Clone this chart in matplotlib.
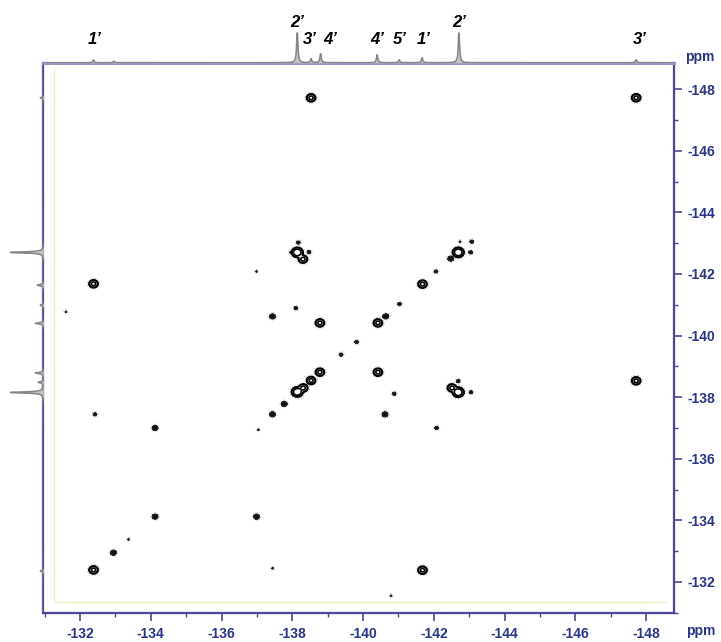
import numpy as np
import matplotlib
matplotlib.use('Agg')
import matplotlib.pyplot as plt

plt.rcParams['font.family'] = ['Liberation Sans', 'DejaVu Sans']
plt.rcParams['axes.unicode_minus'] = False

# ---------------- data ----------------
x_major = [-132, -134, -136, -138, -140, -142, -144, -146, -148]
x_minor = [-131, -133, -135, -137, -139, -141, -143, -145, -147]
x_tick_labels = ['-132', '-134', '-136', '-138', '-140', '-142', '-144', '-146', '-148']
y_major = [-132, -134, -136, -138, -140, -142, -144, -146, -148]
y_tick_labels = ['-132', '-134', '-136', '-138', '-140', '-142', '-144', '-146', '-148']

# 2D cross / diagonal peaks (F2 = horizontal, F1 = vertical), grouped by strength
big_f2 = [-138.14, -142.69, -138.14, -142.69]
big_f1 = [-138.17, -142.70, -142.70, -138.16]

ring_f2 = [-132.38, -138.31, -138.53, -138.78, -140.42, -141.68, -147.72,
           -138.78, -140.42, -138.53, -147.72, -132.38, -141.68, -138.30, -142.51]
ring_f1 = [-132.39, -138.30, -138.54, -138.81, -140.41, -141.67, -147.72,
           -140.41, -138.81, -147.72, -138.53, -141.68, -132.38, -142.48, -138.30]

filled_f2 = [-142.48, -140.64, -137.44, -140.62, -134.12, -134.12, -136.99, -132.94, -137.77, -137.44]
filled_f1 = [-142.50, -140.62, -140.62, -137.44, -137.00, -134.12, -134.12, -132.95, -137.78, -137.44]

small_f2 = [-141.03, -139.38, -139.82, -142.06, -138.10, -140.88, -138.17, -137.98,
            -138.47, -143.07, -143.04, -143.05, -142.69, -142.08, -132.42]
small_f1 = [-141.02, -139.38, -139.79, -142.08, -140.89, -138.11, -143.02, -142.70,
            -142.71, -143.05, -142.70, -138.16, -138.52, -137.00, -137.44]

tiny_f2 = [-133.37, -136.99, -142.74, -137.44, -131.60, -140.79, -137.04]
tiny_f1 = [-133.38, -142.08, -143.05, -132.44, -140.77, -131.55, -136.94]

# 1D projections: position (ppm) and height (px)
top_proj_ppm = [-132.38, -132.95, -138.14, -138.53, -138.80, -140.40, -141.02, -141.67, -142.71, -147.72]
top_proj_h = [3, 1.5, 30, 4, 9, 8, 3, 5, 30, 3]
left_proj_ppm = [-147.72, -142.71, -141.65, -141.00, -140.41, -138.80, -138.50, -138.17, -132.38]
left_proj_h = [3, 33, 6, 3, 8, 8, 5, 33, 3]

# assignment labels above the top projection
label_text = ["1’", "2’", "3’", "4’", "4’", "5’", "1’", "2’", "3’"]
label_ppm = [-132.40, -138.13, -138.50, -139.07, -140.39, -141.05, -141.72, -142.71, -147.83]
label_raised = [False, True, False, False, False, False, False, True, False]

# ---------------- style ----------------
W, H = 721, 642
spine_c = '#4a4896'
top_c = '#9a96c6'
lab_c = '#2b3586'
xlim = (-130.96, -148.79)
ylim = (-131.03, -148.86)

fig = plt.figure(figsize=(W / 100, H / 100), dpi=100)
L, R, T, B = 43.3, 674.0, 62.7, 612.7
ax = fig.add_axes([L / W, 1 - B / H, (R - L) / W, (B - T) / H])
ax.set_xlim(*xlim)
ax.set_ylim(*ylim)

# build 2D surfaces from the peak list
gx = np.arange(-148.9, -130.9, 0.01)
gy = np.arange(-148.9, -130.9, 0.01)


def surface(groups):
    Z = np.zeros((gy.size, gx.size))
    for f2s, f1s, amp, sig in groups:
        for f2, f1 in zip(f2s, f1s):
            ex = np.exp(-0.5 * ((gx - f2) / sig) ** 2)
            ey = np.exp(-0.5 * ((gy - f1) / sig) ** 2)
            Z += amp * np.outer(ey, ex)
    return Z


Z_open = surface([(big_f2, big_f1, 12.0, 0.064), (ring_f2, ring_f1, 5.0, 0.058)])
Z_solid = surface([(filled_f2, filled_f1, 3.0, 0.042), (small_f2, small_f1, 1.2, 0.035),
                   (tiny_f2, tiny_f1, 0.6, 0.028)])
Z_all = Z_open + Z_solid

ax.contour(gx, gy, Z_all, levels=[0.05], colors='#c4c4c4', linewidths=0.8, linestyles=':')
ax.contour(gx, gy, Z_open, levels=[0.4, 0.75, 3.0], colors='black', linewidths=1.15)
ax.contourf(gx, gy, Z_solid, levels=[0.45, 1e6], colors=['#111111'])
ax.contour(gx, gy, Z_solid, levels=[0.35], colors='#333333', linewidths=0.6)

# faint inner frame
ax.plot([-131.25, -131.25], [-148.7, -131.35], color='#f2eec4', lw=1)
ax.plot([-131.25, -148.55], [-131.35, -131.35], color='#f2eec4', lw=1)

for s in ['left', 'bottom', 'right']:
    ax.spines[s].set_color(spine_c)
    ax.spines[s].set_linewidth(1.6)
ax.spines['top'].set_color(top_c)
ax.spines['top'].set_linewidth(2.2)

ax.set_xticks(x_major)
ax.set_xticks(x_minor, minor=True)
ax.set_xticklabels(x_tick_labels, fontweight='bold')
ax.set_yticks(y_major)
ax.set_yticks([v + 1 for v in y_major], minor=True)
ax.set_yticklabels(y_tick_labels, fontweight='bold')
ax.tick_params(axis='both', which='major', direction='out', length=6, width=1.2,
               color=spine_c, labelsize=10, labelcolor=lab_c, pad=4)
ax.tick_params(axis='both', which='minor', direction='out', length=3, width=1.0, color=spine_c)
ax.tick_params(axis='y', which='both', left=False, right=True, labelleft=False, labelright=True)
ax.tick_params(axis='x', which='both', top=False)

# top projection
axt = fig.add_axes([L / W, 1 - T / H, (R - L) / W, 45 / H])
axt.set_xlim(*xlim)
axt.set_ylim(0, 45)
axt.axis('off')
px = np.linspace(xlim[1], xlim[0], 4000)
prof = np.zeros_like(px)
g = 0.022
for p, h in zip(top_proj_ppm, top_proj_h):
    prof += h * g ** 2 / ((px - p) ** 2 + g ** 2)
axt.fill_between(px, 0, prof, color='#c4c4c4', lw=0)
axt.plot(px, prof, color='#858585', lw=1.1)
for t, p, r in zip(label_text, label_ppm, label_raised):
    axt.text(p, 40.5 if r else 23.5, t, ha='center', va='center', fontsize=12,
             fontweight='bold', fontstyle='italic', color='black', clip_on=False)

# left projection
LW = 38.3
axl = fig.add_axes([(L - LW) / W, 1 - B / H, LW / W, (B - T) / H])
axl.set_ylim(*ylim)
axl.set_xlim(LW, 0)
axl.axis('off')
py = np.linspace(ylim[1], ylim[0], 4000)
profl = np.zeros_like(py)
for p, h in zip(left_proj_ppm, left_proj_h):
    profl += h * g ** 2 / ((py - p) ** 2 + g ** 2)
axl.fill_betweenx(py, 0, profl, color='#c4c4c4', lw=0)
axl.plot(profl, py, color='#858585', lw=1.1)

fig.text(701 / W, 1 - 631.5 / H, 'ppm', ha='center', va='center', fontsize=10,
         fontweight='bold', color=lab_c)
fig.text(700 / W, 1 - 56.7 / H, 'ppm', ha='center', va='center', fontsize=10,
         fontweight='bold', color=lab_c)

fig.savefig('out.png', dpi=100)
